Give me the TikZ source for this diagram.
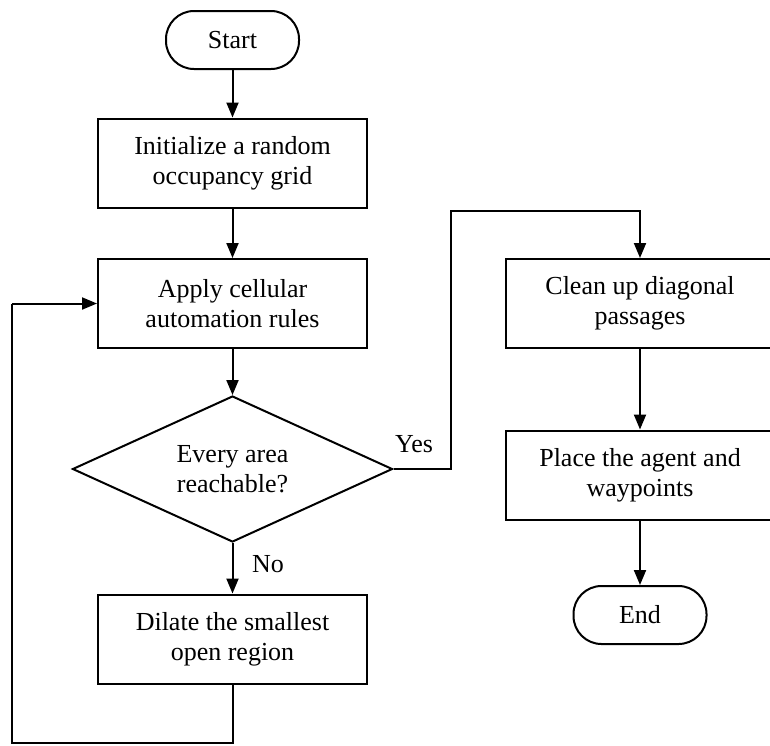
\documentclass[tikz,border=0pt]{standalone}
\usepackage{fontspec}
\setmainfont{Liberation Serif}
\usetikzlibrary{shapes.geometric,arrows.meta}
\begin{document}
\begin{tikzpicture}[x=1pt,y=-1pt,
  every node/.style={font=\fontsize{26}{30}\selectfont, align=center},
  base/.style={draw, line width=2pt, inner sep=0pt},
  proc/.style={base, rectangle, minimum width=269pt, minimum height=89pt},
  term/.style={base, rectangle, rounded corners=28pt, minimum width=133pt, minimum height=58pt},
  dec/.style={base, diamond, minimum width=320pt, minimum height=146pt},
  conn/.style={line width=2pt, -{Triangle[length=15pt,width=12pt]}},
  plain/.style={line width=2pt}
]
\useasboundingbox (0,0) rectangle (770,745);
\clip (0,0) rectangle (770,745);
\node[term] (start) at (232.5,40) {Start};
\node[proc] (init) at (232.5,163) {Initialize a random\\occupancy grid};
\node[proc] (apply) at (232.5,303.5) {Apply cellular\\automation rules};
\node[dec] (check) at (232.5,469) {};
\node (checktext) at (check.center) {Every area\\reachable?};
\node[proc] (dilate) at (232.5,639) {Dilate the smallest\\open region};
\node[proc] (clean) at (640,303.5) {Clean up diagonal\\passages};
\node[proc] (place) at (640,475) {Place the agent and\\waypoints};
\node[term] (end) at (640,615) {End};
\coordinate (y1) at (451,469);
\coordinate (y2) at (451,211);
\coordinate (y3) at (640,211);
\coordinate (l1) at (232.5,743);
\coordinate (l2) at (12,743);
\coordinate (l3) at (12,303.5);
\draw[conn] (start) -- (init);
\draw[conn] (init) -- (apply);
\draw[conn] (apply) -- (check);
\draw[conn] (check) -- (dilate);
\draw[plain] (dilate.south) -- (l1) -- (l2) -- (l3);
\draw[conn] (l3) -- (apply.west);
\draw[conn] (check.east) -- (y1) -- (y2) -- (y3) -- (clean.north);
\draw[conn] (clean) -- (place);
\draw[conn] (place) -- (end);
\node (yes) at (414,444) {Yes};
\node (no) at (268,564) {No};
\end{tikzpicture}
\end{document}
